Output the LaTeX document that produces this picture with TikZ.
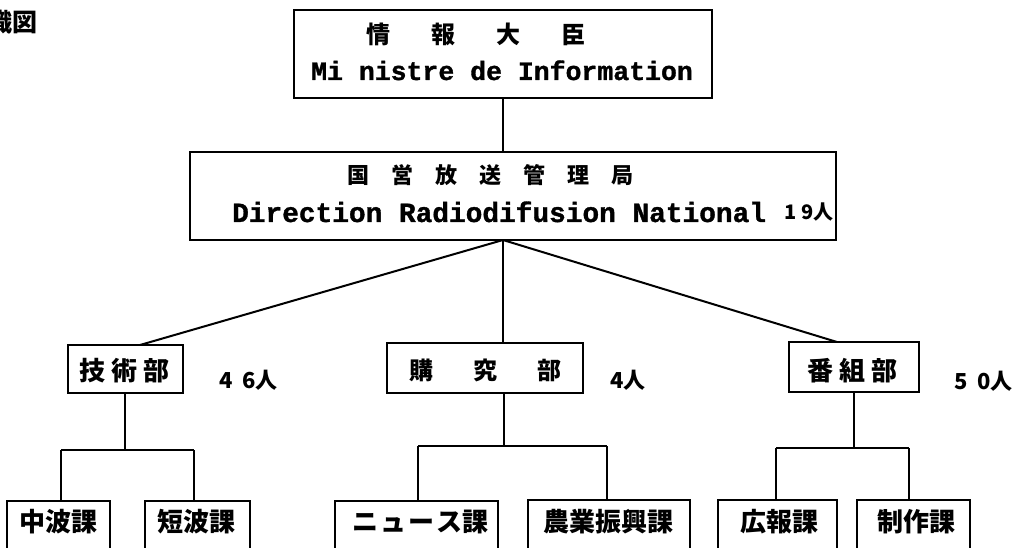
\documentclass[tikz,border=0pt]{standalone}
\usepackage{fontspec}
\newfontfamily\jp{Noto Sans CJK JP}
\newfontfamily\en{Liberation Mono}[FakeBold=1.2]
\begin{document}
\begin{tikzpicture}[x=1pt,y=-1pt,
  box/.style={draw, line width=2.5pt, inner sep=0pt, rectangle},
  conn/.style={line width=2pt},
  jtxt/.style={inner sep=0pt, anchor=west, font=\jp\bfseries},
  etxt/.style={inner sep=0pt, anchor=base west}]
\useasboundingbox (0,0) rectangle (1018,548);
% title (cut off at the left edge, as in the reference)
\node[inner sep=0pt, anchor=east, font=\jp\bfseries\fontsize{25}{25}\selectfont] (ttl) at (38,22) {織図};
% boxes
\node[box, minimum width=418, minimum height=88] (min) at (503,54) {};
\node[box, minimum width=646, minimum height=88] (dir) at (513,196) {};
\node[box, minimum width=115, minimum height=48] (tech) at (125.5,369) {};
\node[box, minimum width=196, minimum height=50] (res) at (485,368) {};
\node[box, minimum width=130, minimum height=50] (prog) at (854,367) {};
\node[box, minimum width=103, minimum height=60] (chu) at (58.5,531) {};
\node[box, minimum width=105, minimum height=60] (tan) at (197.5,531) {};
\node[box, minimum width=163, minimum height=60] (news) at (416.5,531) {};
\node[box, minimum width=162, minimum height=60] (agri) at (609,530) {};
\node[box, minimum width=119, minimum height=60] (koho) at (777.5,530) {};
\node[box, minimum width=113, minimum height=60] (seis) at (913.5,530) {};
% texts
\node[jtxt, font=\jp\bfseries\fontsize{24}{24}\selectfont] (t1) at (366,34) {情\hspace{41pt}報\hspace{41pt}大\hspace{41pt}臣};
\node[etxt, font=\en\bfseries\fontsize{26.5}{26.5}\selectfont] (t2) at (311,80) {Mi nistre de Information};
\node[jtxt, font=\jp\bfseries\fontsize{22}{22}\selectfont] (t3) at (347,175) {国\hspace{22pt}営\hspace{22pt}放\hspace{22pt}送\hspace{22pt}管\hspace{22pt}理\hspace{22pt}局};
\node[etxt, font=\en\bfseries\fontsize{27.8}{27.8}\selectfont] (t4) at (232,222) {Direction Radiodifusion National};
\node[jtxt, font=\jp\bfseries\fontsize{20}{20}\selectfont] (t5) at (784,212) {1\hspace{5pt}9人};
\node[jtxt, font=\jp\bfseries\fontsize{26}{26}\selectfont] (t6) at (79,371) {技\hspace{6pt}術\hspace{6pt}部};
\node[jtxt, font=\jp\bfseries\fontsize{24}{24}\selectfont] (t7) at (409,370) {購\hspace{40pt}究\hspace{40pt}部};
\node[jtxt, font=\jp\bfseries\fontsize{26}{26}\selectfont] (t8) at (807,371) {番\hspace{6pt}組\hspace{6pt}部};
\node[jtxt, font=\jp\bfseries\fontsize{22}{22}\selectfont] (n1) at (219,380) {4\hspace{10pt}6人};
\node[jtxt, font=\jp\bfseries\fontsize{22}{22}\selectfont] (n2) at (610,380) {4人};
\node[jtxt, font=\jp\bfseries\fontsize{22}{22}\selectfont] (n3) at (954,381) {5\hspace{10pt}0人};
\node[jtxt, font=\jp\bfseries\fontsize{26}{26}\selectfont] (b1) at (19,522) {中波課};
\node[jtxt, font=\jp\bfseries\fontsize{26}{26}\selectfont] (b2) at (157,522) {短波課};
\node[jtxt, font=\jp\bfseries\fontsize{26}{26}\selectfont] (b3) at (352,522) {ニ\hspace{2pt}ュ\hspace{2pt}ー\hspace{2pt}ス課};
\node[jtxt, font=\jp\bfseries\fontsize{26}{26}\selectfont] (b4) at (543,522) {農業振興課};
\node[jtxt, font=\jp\bfseries\fontsize{26}{26}\selectfont] (b5) at (740,522) {広報課};
\node[jtxt, font=\jp\bfseries\fontsize{26}{26}\selectfont] (b6) at (877,522) {制作課};
% connector points
\coordinate (dirS) at (503,240);
\coordinate (techT) at (140,345);
\coordinate (progT) at (837,342);
\coordinate (bar1) at (125,450);
\coordinate (bar2) at (504,446);
\coordinate (bar3) at (854,448);
\coordinate (l1a) at (61,450);
\coordinate (l1b) at (194,450);
\coordinate (l2a) at (418,446);
\coordinate (l2b) at (607,446);
\coordinate (l3a) at (776,448);
\coordinate (l3b) at (909,448);
% connectors
\draw[conn] (min.south) -- (min.south |- dir.north);
\draw[conn] (dirS) -- (techT);
\draw[conn] (dirS) -- (dirS |- res.north);
\draw[conn] (dirS) -- (progT);
\draw[conn] (bar1 |- tech.south) -- (bar1);
\draw[conn] (l1a) -- (l1b);
\draw[conn] (l1a) -- (l1a |- chu.north);
\draw[conn] (l1b) -- (l1b |- tan.north);
\draw[conn] (bar2 |- res.south) -- (bar2);
\draw[conn] (l2a) -- (l2b);
\draw[conn] (l2a) -- (l2a |- news.north);
\draw[conn] (l2b) -- (l2b |- agri.north);
\draw[conn] (bar3 |- prog.south) -- (bar3);
\draw[conn] (l3a) -- (l3b);
\draw[conn] (l3a) -- (l3a |- koho.north);
\draw[conn] (l3b) -- (l3b |- seis.north);
\end{tikzpicture}
\end{document}
